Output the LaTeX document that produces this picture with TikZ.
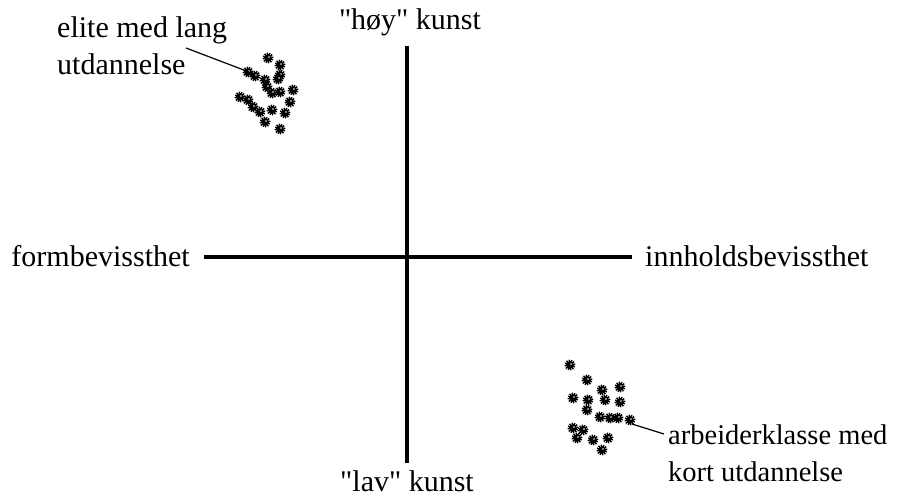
\documentclass[tikz,border=0pt]{standalone}
\usepackage{fontspec}
\setmainfont{Liberation Serif}
\usepackage{tikz}
\usetikzlibrary{positioning}

\begin{document}
\begin{tikzpicture}[x=1pt,y=-1pt,
  akse/.style={line width=3.5pt},
  merke/.style={font=\fontsize{30}{37}\selectfont,inner sep=0pt,align=left},
  peker/.style={line width=1.2pt},
  prikk/.style={fill=black},
  kant/.style={draw=black,line width=1.7pt,dash pattern=on 1.3pt off 1.1pt}
]
  \useasboundingbox (0,0) rectangle (897,497);

  % aksene
  \coordinate (topp) at (407,46);
  \coordinate (bunn) at (407,463);
  \coordinate (venstre) at (204,257);
  \coordinate (hoyre) at (632,257);
  \draw[akse](topp)--(bunn);
  \draw[akse](venstre)--(hoyre);

  \node[merke,anchor=base](hoy) at (410,30){\textquotedbl høy\textquotedbl{} kunst};
  \node[merke,anchor=base](lav) at (407,491){\textquotedbl lav\textquotedbl{} kunst};
  \node[merke,anchor=base east](form) at (190,266){formbevissthet};
  \node[merke,anchor=base west](innh) at (645,266){innholdsbevissthet};

  % grupper
  \foreach \x/\y in {268/58,280/65,280/75,248/72,255/76,265/80,278/79,267/87,
                     280/92,272/93,293/90,290/102,240/97,248/100,253/107,260/112,
                     272/110,285/113,265/122,280/129,
                     570/365,587/380,602/390,620/387,573/398,588/400,605/400,
                     620/402,587/410,600/417,610/418,618/418,630/420,573/428,
                     583/430,577/438,593/440,608/438,602/450}
  {
    \fill[prikk] (\x,\y) circle (4pt);
    \draw[kant] (\x,\y) circle (4.7pt);
    \fill[white] (\x+1,\y-1) circle (0.8pt);
  }

  \node[merke,anchor=base west](elite) at (57,75){elite med lang\\utdannelse};
  \coordinate (elitestart) at (186,48);
  \coordinate (elitepkt) at (249,72);
  \draw[peker](elitestart)--(elitepkt);

  \node[merke,anchor=base west,font=\fontsize{28.5}{37}\selectfont](arb) at (668,481){arbeiderklasse med\\kort utdannelse};
  \coordinate (arbpkt) at (632,424);
  \coordinate (arbslutt) at (664,434);
  \draw[peker](arbpkt)--(arbslutt);
\end{tikzpicture}
\end{document}
